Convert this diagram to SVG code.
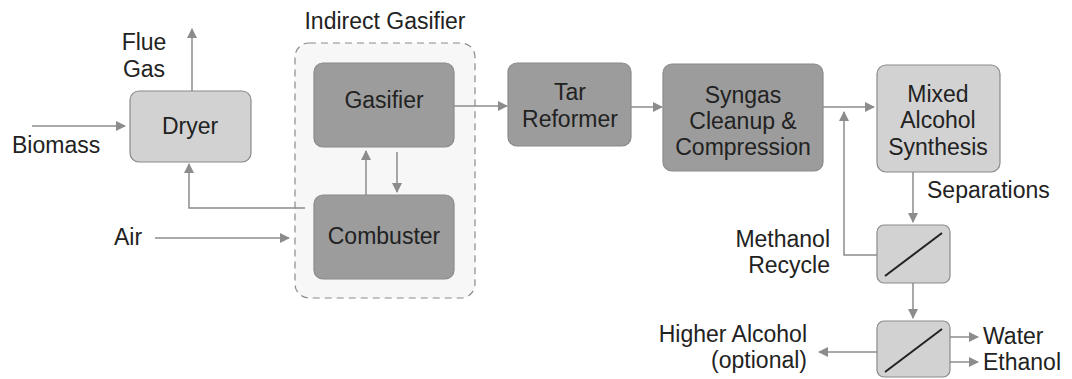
<svg xmlns="http://www.w3.org/2000/svg" width="1072" height="379" viewBox="0 0 1072 379">
<style>
.t{font-family:"Liberation Sans",Arial,sans-serif;font-size:23px;fill:#222}
.c{text-anchor:middle}
.e{text-anchor:end}
.light{fill:#d2d2d2;stroke:#8a8a8a;stroke-width:1.2}
.dark{fill:#9c9c9c;stroke:#8a8a8a;stroke-width:1.2}
.ln{fill:none;stroke:#8c8c8c;stroke-width:1.5}
</style>
<defs>
<marker id="ah" viewBox="0 0 10 10" refX="9" refY="5" markerWidth="10" markerHeight="10" markerUnits="userSpaceOnUse" orient="auto">
<path d="M0,0 L10,5 L0,10 z" fill="#8c8c8c"/>
</marker>
</defs>
<rect width="1072" height="379" fill="#fff"/>
<g id="indirect-gasifier">
<rect x="295" y="43" width="180" height="255" rx="14" fill="#f7f7f7" stroke="#8a8a8a" stroke-width="1.2" stroke-dasharray="7,5"/>
<text class="t c" x="385" y="29" font-size="24">Indirect Gasifier</text>
</g>
<g id="dryer">
<rect class="light" x="130" y="91" width="121" height="71" rx="9"/>
<text class="t c" x="190" y="134">Dryer</text>
</g>
<g id="gasifier">
<rect class="dark" x="314" y="63" width="140" height="84" rx="9"/>
<text class="t c" x="384" y="108">Gasifier</text>
</g>
<g id="combuster">
<rect class="dark" x="314" y="195" width="140" height="84" rx="9"/>
<text class="t c" x="384" y="244">Combuster</text>
</g>
<g id="tar-reformer">
<rect class="dark" x="508" y="63" width="123" height="83" rx="9"/>
<text class="t c" x="570" y="100">Tar</text>
<text class="t c" x="570" y="127">Reformer</text>
</g>
<g id="syngas-cleanup">
<rect class="dark" x="663" y="64" width="160" height="107" rx="9"/>
<text class="t c" x="743" y="103">Syngas</text>
<text class="t c" x="743" y="129">Cleanup &amp;</text>
<text class="t c" x="743" y="155">Compression</text>
</g>
<g id="mixed-alcohol">
<rect class="light" x="877" y="65" width="123" height="107" rx="9"/>
<text class="t c" x="938" y="102">Mixed</text>
<text class="t c" x="938" y="128">Alcohol</text>
<text class="t c" x="938" y="155">Synthesis</text>
</g>
<g id="separator-1">
<rect class="light" x="877" y="225" width="73" height="58" rx="7"/>
<line x1="885" y1="276" x2="942" y2="233" stroke="#222" stroke-width="2"/>
</g>
<g id="separator-2">
<rect class="light" x="877" y="321" width="73" height="56" rx="7"/>
<line x1="885" y1="372" x2="942" y2="329" stroke="#222" stroke-width="2"/>
</g>
<g id="labels">
<text class="t c" x="144" y="50">Flue</text>
<text class="t c" x="144" y="77">Gas</text>
<text class="t" x="12" y="153">Biomass</text>
<text class="t" x="114" y="245">Air</text>
<text class="t" x="927" y="198">Separations</text>
<text class="t e" x="830" y="247">Methanol</text>
<text class="t e" x="830" y="273">Recycle</text>
<text class="t e" x="807" y="342">Higher Alcohol</text>
<text class="t e" x="807" y="368">(optional)</text>
<text class="t" x="983" y="344">Water</text>
<text class="t" x="983" y="370">Ethanol</text>
</g>
<g id="connectors">
<line class="ln" x1="192" y1="91" x2="192" y2="29" marker-end="url(#ah)"/>
<line class="ln" x1="32" y1="126" x2="125" y2="126" marker-end="url(#ah)"/>
<polyline class="ln" points="305,208 189,208 189,164" marker-end="url(#ah)"/>
<line class="ln" x1="155" y1="238" x2="289" y2="238" marker-end="url(#ah)"/>
<line class="ln" x1="366" y1="195" x2="366" y2="151" marker-end="url(#ah)"/>
<line class="ln" x1="397" y1="152" x2="397" y2="192" marker-end="url(#ah)"/>
<line class="ln" x1="454" y1="106" x2="507" y2="106" marker-end="url(#ah)"/>
<line class="ln" x1="631" y1="107" x2="662" y2="107" marker-end="url(#ah)"/>
<line class="ln" x1="823" y1="107" x2="874" y2="107" marker-end="url(#ah)"/>
<polyline class="ln" points="877,255 844,255 844,112" marker-end="url(#ah)"/>
<line class="ln" x1="913" y1="172" x2="913" y2="222" marker-end="url(#ah)"/>
<line class="ln" x1="913" y1="283" x2="913" y2="318" marker-end="url(#ah)"/>
<line class="ln" x1="877" y1="352" x2="819" y2="352" marker-end="url(#ah)"/>
<line class="ln" x1="950" y1="337" x2="978" y2="337" marker-end="url(#ah)"/>
<line class="ln" x1="950" y1="362" x2="978" y2="362" marker-end="url(#ah)"/>
</g>
</svg>
